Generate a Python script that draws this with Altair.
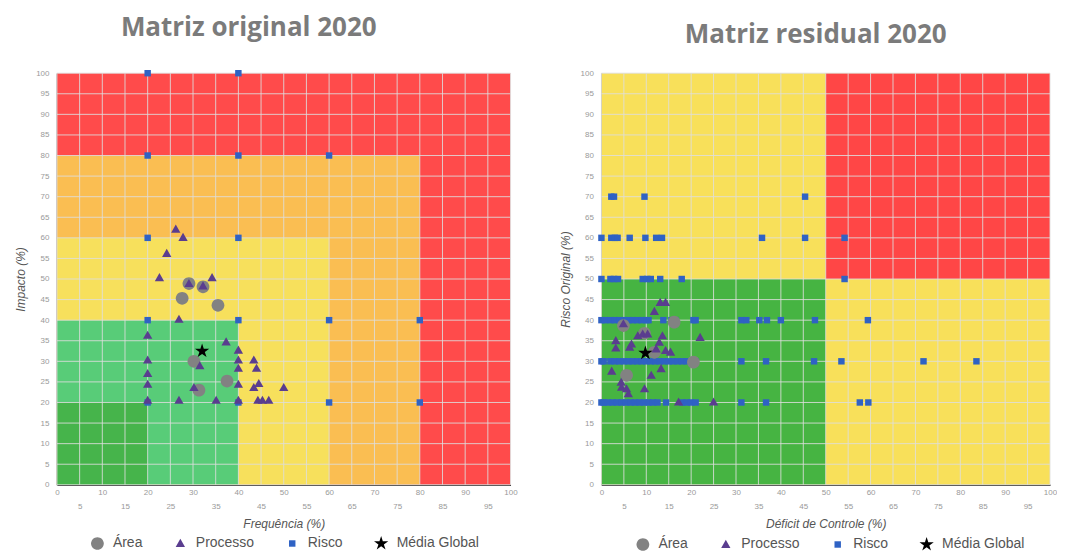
import altair as alt
import pandas as pd

# ---------------- data ----------------
ticks_5 = [0, 5, 10, 15, 20, 25, 30, 35, 40, 45, 50, 55, 60, 65, 70, 75, 80, 85, 90, 95, 100]

types = ["Área", "Processo", "Risco", "Média Global"]
type_colors = ["#828282", "#5a3d8f", "#2f62c4", "#000000"]
# symbol outlines (unit = half the symbol box); relative sizes give each marker its own size
circle_path = "M0.85,0 A0.85,0.85 0 1,1 -0.85,0 A0.85,0.85 0 1,1 0.85,0 Z"
triangle_path = "M0,-0.62 L0.62,0.46 L-0.62,0.46 Z"
square_path = "M-0.43,-0.43 L0.43,-0.43 L0.43,0.43 L-0.43,0.43 Z"
star_path = ("M0,-1 L0.2245,-0.309 L0.951,-0.309 L0.363,0.118 L0.588,0.809 L0,0.382 "
             "L-0.588,0.809 L-0.363,0.118 L-0.951,-0.309 L-0.2245,-0.309 Z")
type_shapes = [circle_path, triangle_path, square_path, star_path]
type_z = [2, 3, 1, 4]
SYMBOL_SIZE = 225

# left matrix (original)
left_zone_x1 = [0, 0, 0, 0, 0]
left_zone_x2 = [100, 80, 60, 40, 20]
left_zone_y1 = [0, 0, 0, 0, 0]
left_zone_y2 = [100, 80, 60, 40, 20]
left_zone_colors = ["#FF4B4B", "#FABE52", "#F7E05C", "#58CC78", "#46B44B"]

left_area_x = [29.1, 32.2, 27.6, 35.5, 30.2, 31.3, 37.5]
left_area_y = [48.9, 48.1, 45.3, 43.6, 30.0, 23.0, 25.2]
left_proc_x = [26.2, 27.8, 24.2, 22.6, 29.1, 32.2, 34.2, 26.9, 20.0, 37.3, 40.0, 40.0,
               43.4, 20.0, 31.5, 40.0, 44.0, 20.0, 20.0, 40.0, 44.5, 43.4, 50.0, 30.2,
               20.0, 26.9, 35.1, 40.0, 44.3, 45.3, 46.7]
left_proc_y = [62.1, 60.1, 56.2, 50.3, 48.9, 48.3, 50.3, 40.2, 36.3, 34.7, 32.7, 30.3,
               30.3, 30.3, 28.9, 28.3, 28.3, 27.0, 24.4, 24.4, 24.6, 23.6, 23.6, 23.6,
               20.5, 20.5, 20.5, 20.5, 20.5, 20.5, 20.5]
left_risk_x = [20, 40, 20, 40, 60, 20, 40, 20, 40, 60, 80, 20, 40, 60, 80]
left_risk_y = [100, 100, 80, 80, 80, 60, 60, 40, 40, 40, 40, 20, 20, 20, 20]
left_mean_x = [32.0]
left_mean_y = [32.5]

# right matrix (residual)
right_zone_x1 = [0, 50, 0]
right_zone_x2 = [100, 100, 50]
right_zone_y1 = [0, 50, 0]
right_zone_y2 = [100, 100, 50]
right_zone_colors = ["#F8E05A", "#FF4646", "#46B442"]

right_area_x = [4.9, 16.2, 9.6, 11.8, 5.6, 20.5]
right_area_y = [38.7, 39.5, 36.8, 32.2, 26.6, 29.8]
right_proc_x = [13.1, 14.3, 11.8, 4.9, 8.1, 9.2, 10.3, 13.6, 22.0, 3.2, 3.2, 6.3, 6.7, 12.9,
                14.3, 15.4, 12.2, 2.3, 11.1, 13.3, 4.4, 4.5, 5.6, 6.0, 9.6, 17.2, 25.0]
right_proc_y = [44.3, 44.3, 42.1, 39.1, 36.2, 36.6, 36.6, 36.2, 35.8, 35.0, 33.2, 33.4, 34.2,
                34.6, 32.6, 32.2, 33.0, 27.6, 26.6, 28.2, 24.9, 23.7, 23.3, 22.1, 23.3, 20.1, 20.1]
right_risk_x_70 = [2.2, 2.8, 9.6, 45.4]
right_risk_x_60 = [0, 2.2, 3.0, 3.6, 6.3, 9.8, 12.2, 13.5, 35.8, 45.4, 54.2]
right_risk_x_50 = [0, 2.0, 2.8, 3.7, 9.2, 10.2, 11.0, 13.1, 17.9, 54.2]
right_risk_x_40 = [0, 0.8, 2.0, 3.0, 4.0, 5.0, 6.0, 7.0, 8.0, 9.0, 10.0, 10.5, 13.8, 15.6,
                   16.5, 20.5, 21.0, 31.2, 32.3, 35.2, 36.9, 40.0, 47.6, 59.4]
right_risk_x_30 = [0, 0.5, 2.0, 3.0, 4.0, 5.0, 6.0, 7.0, 8.0, 9.0, 10.0, 11.0, 12.0, 13.0,
                   14.0, 15.0, 16.0, 17.0, 18.0, 19.0, 20.0, 21.0, 31.2, 36.7, 47.4, 53.5,
                   71.8, 83.6]
right_risk_x_20 = [0, 0.5, 1.5, 2.5, 3.5, 4.5, 5.5, 6.5, 7.5, 8.5, 9.5, 10.5, 11.5, 12.5,
                   14.4, 18.0, 19.0, 20.0, 21.0, 31.2, 36.7, 57.6, 59.5]
right_mean_x = [9.8]
right_mean_y = [32.0]


def points_frame(groups):
    rows = []
    for t, xs, ys in groups:
        i = types.index(t)
        for x, y in zip(xs, ys):
            rows.append({"x": x, "y": y, "tipo": t, "z": type_z[i]})
    return pd.DataFrame(rows)


left_pts = points_frame([
    ("Área", left_area_x, left_area_y),
    ("Processo", left_proc_x, left_proc_y),
    ("Risco", left_risk_x, left_risk_y),
    ("Média Global", left_mean_x, left_mean_y),
])

r_x, r_y = [], []
for level, xs in [(70, right_risk_x_70), (60, right_risk_x_60), (50, right_risk_x_50),
                  (40, right_risk_x_40), (30, right_risk_x_30), (20, right_risk_x_20)]:
    r_x += xs
    r_y += [level] * len(xs)

right_pts = points_frame([
    ("Área", right_area_x, right_area_y),
    ("Processo", right_proc_x, right_proc_y),
    ("Risco", r_x, r_y),
    ("Média Global", right_mean_x, right_mean_y),
])

FONT = "Arial"


def panel(zx1, zx2, zy1, zy2, zcol, pts, xtitle, ytitle, title, title_offset, title_dx,
          legend_x, legend_y, width, height):
    zones = pd.DataFrame({"x1": zx1, "x2": zx2, "y1": zy1, "y2": zy2, "c": zcol,
                          "o": list(range(len(zcol)))})
    grid = pd.DataFrame({"v": ticks_5})

    xscale = alt.Scale(domain=[0, 100], nice=False, zero=False)
    yscale = alt.Scale(domain=[0, 100], nice=False, zero=False)

    xaxis = alt.Axis(values=ticks_5, title=xtitle, grid=False, ticks=False,
                     labelFontSize=8, labelColor="#9a9a9a", labelFont=FONT,
                     labelPadding=4, labelFlush=False, labelOverlap=False,
                     labelLineHeight=14,
                     labelExpr="datum.value % 10 == 0 ? datum.label : ['', datum.label]",
                     domainColor="#333333", domainWidth=1.5,
                     titleFont=FONT, titleFontSize=12, titleFontStyle="italic",
                     titleFontWeight="normal", titleColor="#555555", titlePadding=8)
    yaxis = alt.Axis(values=ticks_5, title=ytitle, grid=False, ticks=False,
                     labelFontSize=8, labelColor="#9a9a9a", labelFont=FONT,
                     labelPadding=8, labelOverlap=False,
                     domainColor="#333333", domainWidth=1.5,
                     titleFont=FONT, titleFontSize=12, titleFontStyle="italic",
                     titleFontWeight="normal", titleColor="#555555", titlePadding=8)

    rects = alt.Chart(zones).mark_rect().encode(
        x=alt.X("x1:Q", scale=xscale, axis=xaxis),
        x2="x2:Q",
        y=alt.Y("y1:Q", scale=yscale, axis=yaxis),
        y2="y2:Q",
        fill=alt.Fill("c:N", scale=None),
        order=alt.Order("o:Q"),
    )
    vgrid = alt.Chart(grid).mark_rule(color="#dedede", opacity=0.85, strokeWidth=1).encode(
        x=alt.X("v:Q", scale=xscale, axis=xaxis))
    hgrid = alt.Chart(grid).mark_rule(color="#dedede", opacity=0.85, strokeWidth=1).encode(
        y=alt.Y("v:Q", scale=yscale, axis=yaxis))

    legend = alt.Legend(title=None, orient="none", direction="horizontal",
                        legendX=legend_x, legendY=legend_y,
                        labelFont=FONT, labelFontSize=14, labelColor="#555555",
                        columnPadding=30, labelOffset=8, padding=0,
                        symbolSize=SYMBOL_SIZE, symbolStrokeWidth=0, symbolOpacity=1)
    dots = alt.Chart(pts).mark_point(filled=True, opacity=1, strokeWidth=0,
                                     size=SYMBOL_SIZE).encode(
        x=alt.X("x:Q", scale=xscale, axis=xaxis),
        y=alt.Y("y:Q", scale=yscale, axis=yaxis),
        color=alt.Color("tipo:N", scale=alt.Scale(domain=types, range=type_colors),
                        legend=legend),
        shape=alt.Shape("tipo:N", scale=alt.Scale(domain=types, range=type_shapes),
                        legend=legend),
        order=alt.Order("z:Q"),
    )
    return alt.layer(rects, vgrid, hgrid, dots).properties(
        width=width, height=height,
        title=alt.TitleParams(title, font="Open Sans", fontSize=26, fontWeight="bold",
                              color="#7b7b7b", offset=title_offset, dx=title_dx,
                              anchor="middle"),
    )


left = panel(left_zone_x1, left_zone_x2, left_zone_y1, left_zone_y2, left_zone_colors,
             left_pts, "Frequência (%)", "Impacto (%)", "Matriz original 2020",
             28, -35, 33, 463, 454, 412)
right = panel(right_zone_x1, right_zone_x2, right_zone_y1, right_zone_y2, right_zone_colors,
              right_pts, "Déficit de Controle (%)", "Risco Original (%)",
              "Matriz residual 2020", 21, -10, 34, 464, 449, 412)

chart = alt.hconcat(left, right, spacing=91, bounds="flush").resolve_scale(
    color="independent", shape="independent"
).configure_view(stroke=None).properties(
    padding={"left": 6, "top": 7, "right": 0, "bottom": 0}
)

chart.save("out.html", embed_options={"renderer": "svg", "actions": False})
